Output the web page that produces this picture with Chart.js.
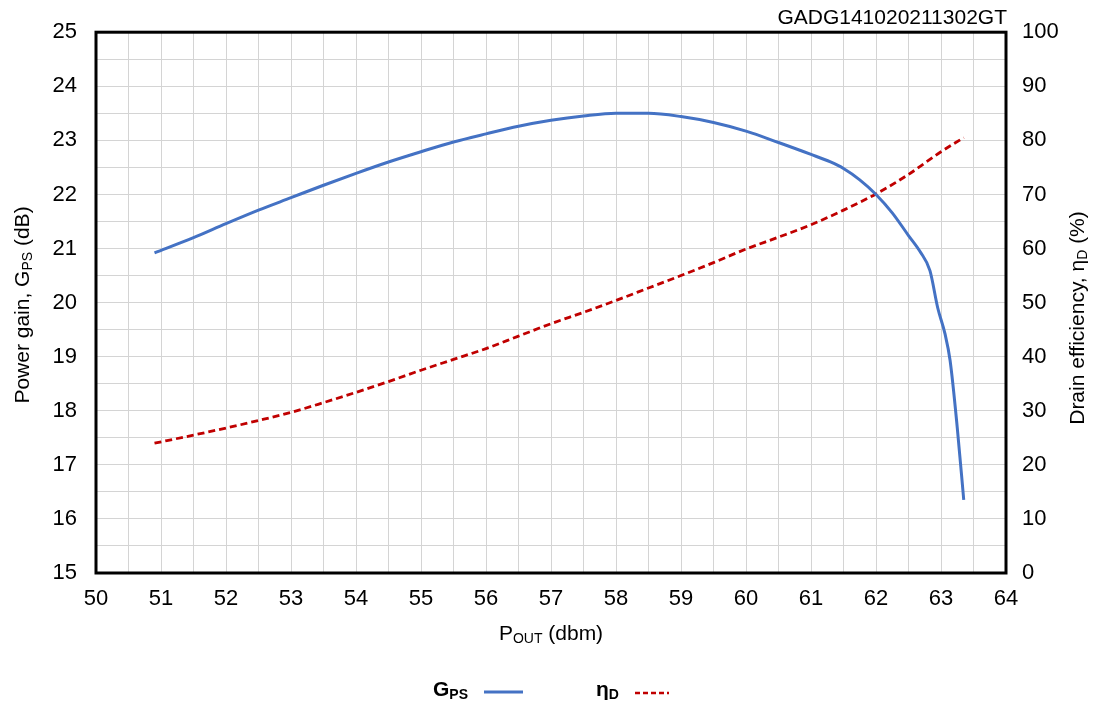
<!DOCTYPE html>
<html><head><meta charset="utf-8">
<script src="https://cdn.jsdelivr.net/npm/chart.js@4/dist/chart.umd.min.js"></script>
<style>html,body{margin:0;padding:0;background:#fff}#wrap{width:1099px;height:707px;position:relative}</style>
</head><body><div id="wrap"><canvas id="c" width="1099" height="707"></canvas></div>
<script>
// ---- Data ----
const gpsPout = [50.9, 51.5, 52, 52.5, 53, 53.5, 54, 54.5, 55, 55.5, 56, 56.5, 57, 57.5, 58, 58.5, 59, 59.5, 60, 60.5, 61, 61.3, 61.5, 61.75, 62, 62.25, 62.5, 62.68, 62.83, 62.95, 63.06, 63.14, 63.25, 63.35];
const gpsGain = [20.92, 21.2, 21.46, 21.71, 21.94, 22.17, 22.39, 22.6, 22.79, 22.97, 23.12, 23.26, 23.37, 23.45, 23.5, 23.5, 23.44, 23.33, 23.17, 22.96, 22.74, 22.6, 22.48, 22.27, 22.0, 21.66, 21.24, 20.94, 20.59, 19.9, 19.43, 18.93, 17.69, 16.35];
const effPout = [50.9, 51.5, 52, 52.5, 53, 53.5, 54, 54.5, 55, 55.5, 56, 56.5, 57, 57.5, 58, 58.5, 59, 59.5, 60, 60.5, 61, 61.5, 62, 62.5, 63, 63.35];
const effEta  = [24, 25.5, 26.8, 28.2, 29.7, 31.5, 33.4, 35.4, 37.5, 39.5, 41.5, 43.8, 46.1, 48.2, 50.4, 52.7, 55, 57.4, 59.9, 62.1, 64.4, 67.1, 70.1, 73.7, 77.9, 80.5];
const xTicks = [50,51,52,53,54,55,56,57,58,59,60,61,62,63,64];
const yLeftRange = [15, 25];
const yRightRange = [0, 100];
const chartId = 'GADG141020211302GT';

const FONT = '"Liberation Sans", Arial, sans-serif';
const BLUE = '#4472C4', RED = '#C00000';
const TXT = 21;

function drawRich(ctx, parts, x, y, align, size, bold) {
  const w = bold ? 'bold ' : '';
  const sub = Math.round(size * 0.68);
  let total = 0;
  parts.forEach(p => { ctx.font = w + (p.sub ? sub : size) + 'px ' + FONT; total += ctx.measureText(p.t).width; });
  let cx = align === 'center' ? x - total / 2 : (align === 'right' ? x - total : x);
  ctx.textAlign = 'left'; ctx.textBaseline = 'middle'; ctx.fillStyle = '#000';
  parts.forEach(p => {
    ctx.font = w + (p.sub ? sub : size) + 'px ' + FONT;
    ctx.fillText(p.t, cx, p.sub ? y + size * 0.25 : y);
    cx += ctx.measureText(p.t).width;
  });
}

const deco = {
  id: 'deco',
  afterDraw(chart) {
    const ctx = chart.ctx, a = chart.chartArea;
    ctx.save();
    ctx.strokeStyle = '#000'; ctx.lineWidth = 3;
    ctx.strokeRect(a.left, a.top, a.right - a.left, a.bottom - a.top);
    // left title
    ctx.save(); ctx.translate(23, 305); ctx.rotate(-Math.PI / 2);
    drawRich(ctx, [{t:'Power gain, G'},{t:'PS',sub:true},{t:' (dB)'}], 0, 0, 'center', TXT);
    ctx.restore();
    // right title
    ctx.save(); ctx.translate(1078, 318); ctx.rotate(-Math.PI / 2);
    drawRich(ctx, [{t:'Drain efficiency, η'},{t:'D',sub:true},{t:' (%)'}], 0, 0, 'center', TXT);
    ctx.restore();
    // x title
    drawRich(ctx, [{t:'P'},{t:'OUT',sub:true},{t:' (dbm)'}], 551, 634, 'center', TXT);
    // id label
    drawRich(ctx, [{t:chartId}], 1007, 18, 'right', TXT);
    // legend
    drawRich(ctx, [{t:'G'},{t:'PS',sub:true}], 433, 690, 'left', TXT, true);
    ctx.strokeStyle = BLUE; ctx.lineWidth = 3; ctx.setLineDash([]);
    ctx.beginPath(); ctx.moveTo(484, 692); ctx.lineTo(523, 692); ctx.stroke();
    drawRich(ctx, [{t:'η'},{t:'D',sub:true}], 596, 690, 'left', TXT, true);
    ctx.strokeStyle = RED; ctx.lineWidth = 2.5; ctx.setLineDash([5, 3]);
    ctx.beginPath(); ctx.moveTo(635, 693); ctx.lineTo(669, 693); ctx.stroke();
    ctx.restore();
  }
};

const tickFont = { family: FONT, size: 22 };
new Chart(document.getElementById('c'), {
  type: 'line',
  data: { datasets: [
    { label: 'GPS', data: gpsPout.map((x, i) => ({x, y: gpsGain[i]})), yAxisID: 'y',
      borderColor: BLUE, borderWidth: 3, pointRadius: 0, cubicInterpolationMode: 'monotone', fill: false },
    { label: 'ηD', data: effPout.map((x, i) => ({x, y: effEta[i]})), yAxisID: 'y2',
      borderColor: RED, borderWidth: 2.8, borderDash: [7, 4], pointRadius: 0, cubicInterpolationMode: 'monotone', fill: false }
  ]},
  options: {
    responsive: false, animation: false, devicePixelRatio: 1,
    layout: { padding: { top: 32, left: 0, right: 0, bottom: 0 } },
    plugins: { legend: { display: false }, tooltip: { enabled: false } },
    scales: {
      x: { type: 'linear', min: xTicks[0], max: xTicks[xTicks.length - 1],
        ticks: { stepSize: 0.5, autoSkip: false, maxRotation: 0, font: tickFont, color: '#000', padding: 13,
          callback: v => Number.isInteger(v) ? String(v) : '' },
        grid: { color: '#d4d4d4', lineWidth: 1, drawTicks: false }, border: { display: false },
        afterFit(s) { s.height = 134; } },
      y: { position: 'left', min: yLeftRange[0], max: yLeftRange[1],
        ticks: { stepSize: 0.5, autoSkip: false, font: tickFont, color: '#000', padding: 19,
          callback: v => Number.isInteger(v) ? String(v) : '' },
        grid: { color: '#d4d4d4', lineWidth: 1, drawTicks: false }, border: { display: false },
        afterFit(s) { s.width = 96; } },
      y2: { position: 'right', min: yRightRange[0], max: yRightRange[1],
        ticks: { stepSize: 10, autoSkip: false, font: tickFont, color: '#000', padding: 16 },
        grid: { display: false, drawTicks: false }, border: { display: false },
        afterFit(s) { s.width = 93; } }
    }
  },
  plugins: [deco]
});
</script></body></html>
